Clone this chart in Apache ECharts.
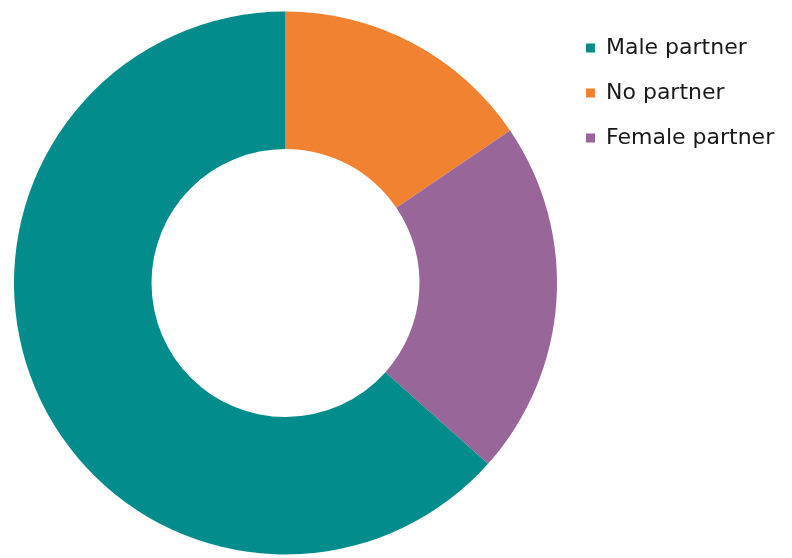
<!DOCTYPE html>
<html>
<head>
<meta charset="utf-8">
<script src="https://cdn.jsdelivr.net/npm/echarts@6/dist/echarts.min.js"></script>
<style>
  html, body { margin: 0; padding: 0; background: #ffffff; }
  #chart { width: 792px; height: 558px; }
</style>
</head>
<body>
<div id="chart"></div>
<script>
// Partner status shares (%), drawn clockwise from 12 o'clock
const categories = ['No partner', 'Female partner', 'Male partner'];
const values = [15.5, 21.1, 63.4];
const colors = ['#F08232', '#996699', '#038C8C'];
// Legend order
const legendOrder = ['Male partner', 'No partner', 'Female partner'];

const chart = echarts.init(document.getElementById('chart'));
chart.setOption({
  animation: false,
  legend: {
    data: legendOrder,
    orient: 'vertical',
    left: 586,
    top: 37,
    padding: 0,
    icon: 'rect',
    itemWidth: 9,
    itemHeight: 9,
    itemGap: 23,
    textStyle: {
      fontFamily: 'DejaVu Sans, sans-serif',
      fontSize: 22,
      color: '#1a1a1a',
      padding: [0, 0, 0, 6]
    }
  },
  series: [{
    type: 'pie',
    center: [285.5, 283],
    radius: [134, 271.5],
    startAngle: 90,
    clockwise: true,
    label: { show: false },
    labelLine: { show: false },
    emphasis: { disabled: true },
    itemStyle: { borderWidth: 0 },
    data: categories.map((c, i) => ({ name: c, value: values[i], itemStyle: { color: colors[i] } }))
  }]
});
</script>
</body>
</html>
